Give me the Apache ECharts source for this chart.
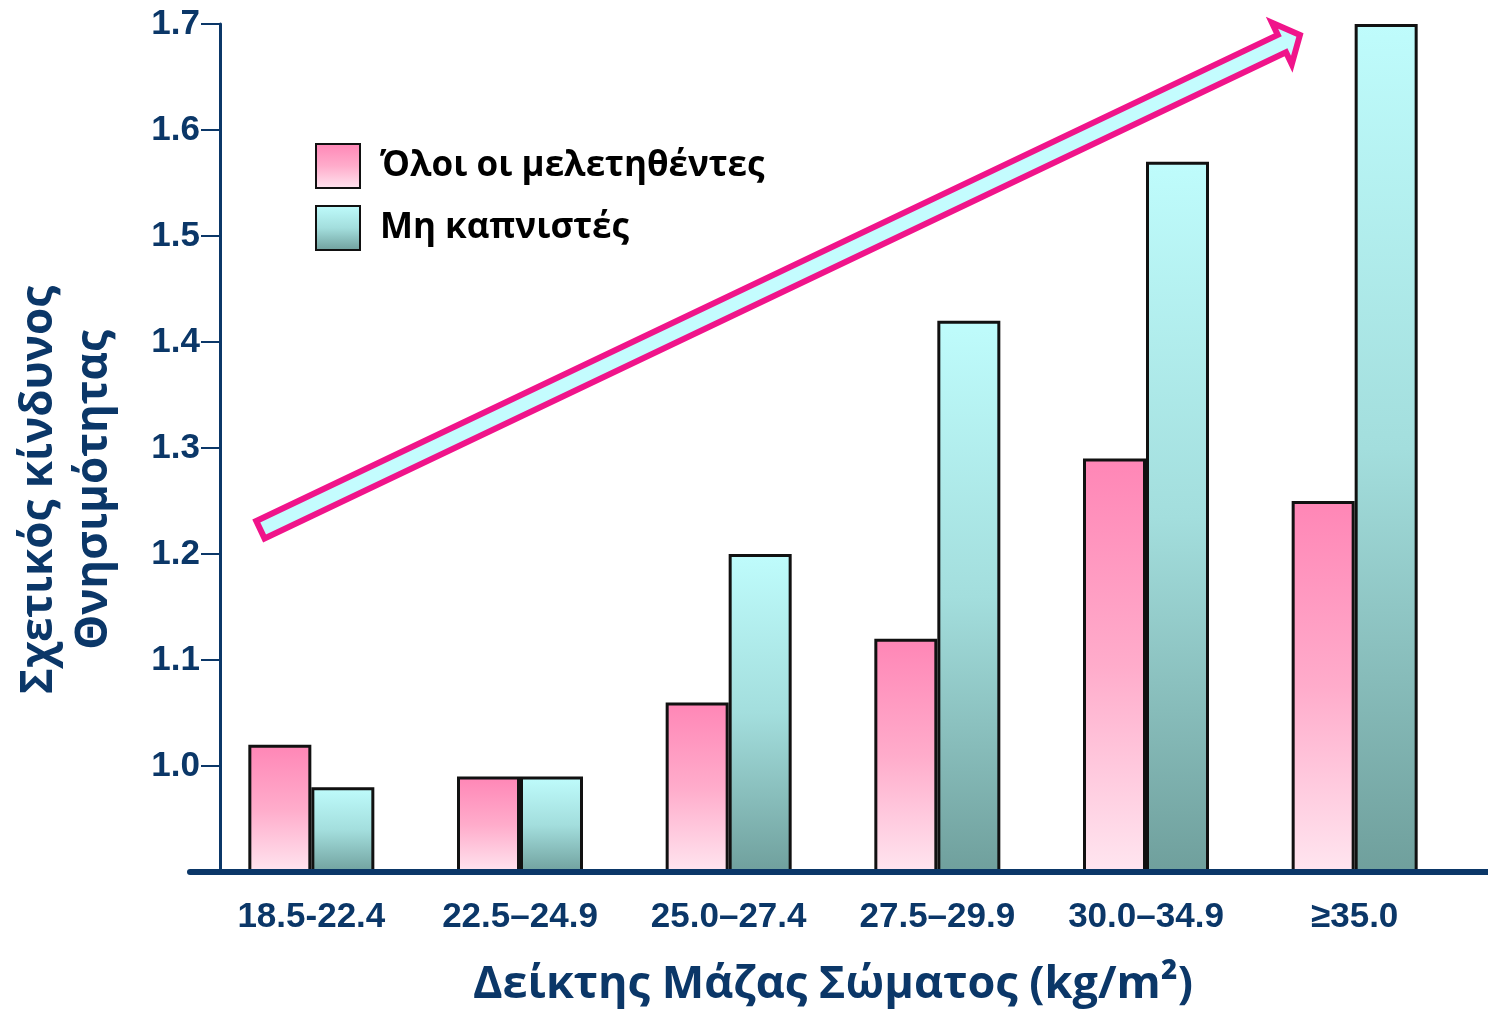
<!DOCTYPE html>
<html>
<head>
<meta charset="utf-8">
<script src="https://cdn.jsdelivr.net/npm/echarts@6/dist/echarts.min.js"></script>
<style>
  html, body { margin: 0; padding: 0; background: #ffffff; }
  #chart { width: 1488px; height: 1010px; }
</style>
</head>
<body>
<div id="chart"></div>
<script>
// BMI bands (kg/m²)
const categories = ['18.5-22.4', '22.5–24.9', '25.0–27.4', '27.5–29.9', '30.0–34.9', '≥35.0'];
// Relative mortality risk per BMI band
const allSubjects = [1.02, 0.99, 1.06, 1.12, 1.29, 1.25];
const nonSmokers = [0.98, 0.99, 1.20, 1.42, 1.57, 1.70];
const seriesNames = ['Όλοι οι μελετηθέντες', 'Μη καπνιστές'];
const yTitleLines = ['Σχετικός κίνδυνος', 'Θνησιμότητας'];
const xTitle = 'Δείκτης Μάζας Σώματος (kg/m²)';

const NAVY = '#0b3768';
const chart = echarts.init(document.getElementById('chart'));

const pinkFill = new echarts.graphic.LinearGradient(0, 0, 0, 1, [
  { offset: 0, color: '#ff86b6' },
  { offset: 0.5, color: '#ffaccb' },
  { offset: 1, color: '#ffe6f0' }
]);
const tealFill = new echarts.graphic.LinearGradient(0, 0, 0, 1, [
  { offset: 0, color: '#bffcfc' },
  { offset: 0.5, color: '#a3dedd' },
  { offset: 1, color: '#6f9f9c' }
]);

// Block arrow showing the upward trend
function arrowPoints(tail, tip, shaftHalf, headHalf, headLen, tailInset, tipInset) {
  const dx = tip[0] - tail[0], dy = tip[1] - tail[1];
  const L = Math.hypot(dx, dy);
  const d = [dx / L, dy / L];
  const n = [-d[1], d[0]];
  const at = (u, v) => [tail[0] + d[0] * u + n[0] * v, tail[1] + d[1] * u + n[1] * v];
  const uTip = L - tipInset;
  const uBase = uTip - headLen;
  return [
    at(tailInset, -shaftHalf), at(uBase, -shaftHalf), at(uBase, -headHalf),
    at(uTip, 0),
    at(uBase, headHalf), at(uBase, shaftHalf), at(tailInset, shaftHalf)
  ];
}

const option = {
  backgroundColor: '#ffffff',
  animation: false,
  legend: {
    orient: 'vertical',
    left: 315,
    top: 143,
    padding: 0,
    itemWidth: 44,
    itemHeight: 44,
    itemGap: 16,
    icon: 'rect',
    data: seriesNames,
    textStyle: {
      fontFamily: 'Open Sans',
      fontWeight: 'bold',
      fontSize: 35,
      color: '#000000',
      padding: [0, 0, 0, 15]
    }
  },
  grid: [
    { left: 207, right: 29, top: 24, height: 848, containLabel: false, outerBoundsMode: 'none' },
    { left: 190, right: 0, top: 24, height: 848, containLabel: false, outerBoundsMode: 'none' }
  ],
  xAxis: [
    {
      type: 'category',
      gridIndex: 0,
      data: categories,
      axisLine: { show: false },
      axisTick: { show: false },
      axisLabel: {
        margin: 28,
        fontFamily: 'Liberation Sans',
        fontWeight: 'bold',
        fontSize: 35,
        color: NAVY
      },
      name: xTitle,
      nameLocation: 'middle',
      nameGap: 91,
      nameTextStyle: {
        fontFamily: 'Open Sans',
        fontWeight: 'bold',
        fontSize: 45,
        color: NAVY
      }
    },
    {
      type: 'category',
      gridIndex: 1,
      data: [''],
      z: 10,
      axisLine: { show: true, lineStyle: { color: NAVY, width: 6 } },
      axisTick: { show: false },
      axisLabel: { show: false }
    }
  ],
  yAxis: [
    {
      type: 'value',
      gridIndex: 0,
      min: 0.9,
      max: 1.7,
      interval: 0.1,
      offset: -13,
      splitLine: { show: false },
      axisLine: { show: true, lineStyle: { color: NAVY, width: 3 } },
      axisTick: { show: true, inside: false, length: 19, lineStyle: { color: NAVY, width: 2 } },
      axisLabel: {
        showMinLabel: false,
        margin: 20,
        fontFamily: 'Liberation Sans',
        fontWeight: 'bold',
        fontSize: 35,
        color: NAVY,
        formatter: v => v.toFixed(1)
      }
    },
    {
      type: 'value',
      gridIndex: 1,
      min: 0.9,
      max: 1.7,
      show: false
    }
  ],
  series: [
    {
      name: seriesNames[0],
      type: 'bar',
      xAxisIndex: 0,
      yAxisIndex: 0,
      data: allSubjects,
      barWidth: 63,
      barGap: '0%',
      itemStyle: { color: pinkFill, borderColor: '#111111', borderWidth: 3 }
    },
    {
      name: seriesNames[1],
      type: 'bar',
      xAxisIndex: 0,
      yAxisIndex: 0,
      data: nonSmokers,
      barWidth: 63,
      barGap: '0%',
      itemStyle: { color: tealFill, borderColor: '#111111', borderWidth: 3 }
    }
  ],
  graphic: [
    {
      type: 'polygon',
      z: 20,
      shape: { points: arrowPoints([257.7, 531], [1304, 33], 9.6, 23, 20, 3, 4.5) },
      style: { fill: '#c4fcfe', stroke: '#f0148a', lineWidth: 6, lineJoin: 'miter' }
    },
    {
      type: 'text',
      z: 20,
      x: 67,
      y: 490,
      rotation: Math.PI / 2,
      style: {
        text: yTitleLines.join('\n'),
        fontFamily: 'Open Sans',
        fontWeight: 'bold',
        fontSize: 44,
        lineHeight: 55,
        fill: NAVY,
        align: 'center',
        verticalAlign: 'middle'
      }
    }
  ]
};

chart.setOption(option);
</script>
</body>
</html>
